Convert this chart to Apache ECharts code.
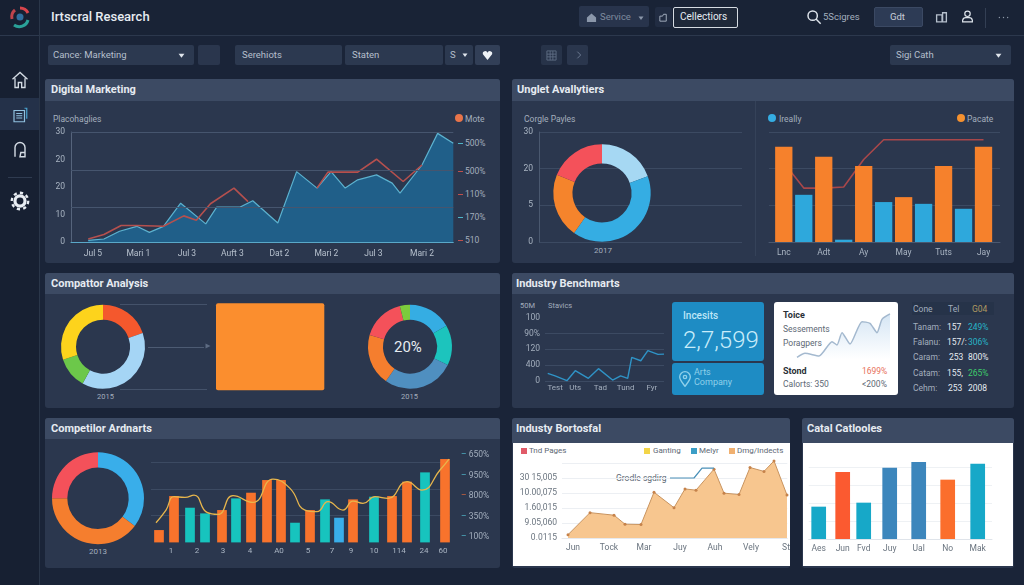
<!DOCTYPE html>
<html>
<head>
<meta charset="utf-8">
<title>Irtscral Research</title>
<script src="https://cdn.jsdelivr.net/npm/echarts@6/dist/echarts.min.js"></script>
<style>
    html, body { margin: 0; padding: 0; width: 1024px; height: 585px; overflow: hidden; background: #1a2438; font-family: Roboto, Arial, sans-serif; }
    #page { position: absolute; left: 0; top: 0; width: 1024px; height: 585px; }
    #page div, #page span, #page svg { position: absolute; white-space: nowrap; }
    #mainChart { position: absolute; left: 0; top: 0; width: 1024px; height: 585px; }
</style>
</head>
<body>
<div id="page"></div>
<div id="mainChart"></div>
<script>
var page = document.getElementById('page');

// x, y, w, h, background, extra css
var boxes = [
    [0, 0, 39, 585, '#172032', ''],
    [39, 0, 985, 35, '#192336', ''],
    [0, 35, 1024, 1, '#2c384d', ''],
    [39, 0, 1, 585, '#2a3649', ''],
    [0, 98, 39, 32, '#243149', ''],
    [8, 177, 24, 1, '#2f3b50', ''],
    // top bar
    [579, 6, 70, 21, '#28344c', 'border-radius:2px'],
    [655, 7, 17, 20, '#212c42', 'border-radius:2px'],
    [673, 7, 63, 19, '#1e2839', 'border:1px solid #d5dbe2;border-radius:2px'],
    [874, 7, 49, 20, '#2d3b55', 'border-radius:2px;border:1px solid #3b4963;box-sizing:border-box'],
    [985, 8, 1, 20, '#333f54', ''],
    // filters
    [48, 45, 146, 20, '#2c3950', 'border-radius:2px'],
    [198, 45, 22, 20, '#2a364d', 'border-radius:2px'],
    [235, 45, 107, 20, '#2c3950', 'border-radius:2px'],
    [345, 45, 98, 20, '#2c3950', 'border-radius:2px'],
    [445, 45, 28, 20, '#2c3950', 'border-radius:2px'],
    [475, 45, 25, 20, '#323f57', 'border-radius:2px'],
    [541, 45, 21, 20, '#273349', 'border-radius:2px'],
    [567, 45, 21, 20, '#2a364d', 'border-radius:2px'],
    [890, 45, 121, 20, '#2c3950', 'border-radius:2px'],
    // panels
    [45, 79, 455, 184, '#2b374e', 'border-radius:3px'],
    [45, 79, 455, 22, '#3c4a63', 'border-radius:3px 3px 0 0'],
    [512, 79, 502, 184, '#2b374e', 'border-radius:3px'],
    [512, 79, 502, 22, '#3c4a63', 'border-radius:3px 3px 0 0'],
    [755, 101, 1, 155, '#354259', ''],
    [45, 273, 455, 135, '#2b374e', 'border-radius:3px'],
    [45, 273, 455, 21, '#3c4a63', 'border-radius:3px 3px 0 0'],
    [512, 273, 502, 135, '#2b374e', 'border-radius:3px'],
    [512, 273, 502, 21, '#3c4a63', 'border-radius:3px 3px 0 0'],
    [45, 418, 455, 150, '#2b374e', 'border-radius:3px'],
    [45, 418, 455, 21, '#3c4a63', 'border-radius:3px 3px 0 0'],
    [512, 418, 278, 150, '#2b374e', 'border-radius:3px'],
    [512, 418, 278, 25, '#3c4a63', 'border-radius:3px 3px 0 0'],
    [802, 418, 212, 150, '#2b374e', 'border-radius:3px'],
    [802, 418, 212, 25, '#3c4a63', 'border-radius:3px 3px 0 0'],
    // white cards
    [513, 443, 277, 123, '#ffffff', ''],
    [803, 443, 210, 123, '#ffffff', ''],
    [774, 302, 124, 93, '#ffffff', 'border-radius:3px'],
    // blue cards
    [672, 302, 92, 59, '#1e8cc4', 'border-radius:3px'],
    [672, 363, 92, 32, '#1e8cc4', 'border-radius:3px'],
    // small table head
    [912, 302, 82, 13, '#263349', ''],
    // connector lines between the rings
    [120, 304, 87, 1, '#44526a', ''],
    [120, 389, 87, 1, '#44526a', ''],
    [148, 347, 56, 1, '#4d5b73', ''],
    // little legend swatches
    [455, 114, 8, 8, '#e8744a', 'border-radius:50%'],
    [768, 114, 8, 8, '#35ade3', 'border-radius:50%'],
    [957, 114, 8, 8, '#f5912f', 'border-radius:50%'],
    [521, 448, 6, 6, '#e05a68', ''],
    [644, 448, 6, 6, '#f3d548', ''],
    [691, 448, 6, 6, '#3b9ec6', ''],
    [729, 448, 6, 6, '#f0b070', ''],
    [606, 478, 7, 1, '#8d97a3', ''],
    // dashes of the right scale in the first panel
    [458, 143, 5, 1, '#4fb5c9', ''],
    [458, 171, 5, 1, '#c0504d', ''],
    [458, 194, 5, 1, '#c0504d', ''],
    [458, 217, 5, 1, '#4fb5c9', ''],
    [458, 240, 5, 1, '#c0504d', '']
];
boxes.forEach(function (b) {
    var el = document.createElement('div');
    el.style.cssText = 'left:' + b[0] + 'px;top:' + b[1] + 'px;width:' + b[2] + 'px;height:' + b[3] + 'px;background:' + b[4] + ';' + b[5];
    page.appendChild(el);
});

// x, center y, text, size, color, extra css
var W = '#e6ebf1', G = '#a3aebd', D = '#5d6874';
var labels = [
    [51, 17, 'Irtscral Research', 13, W, 'font-weight:500'],
    [600, 17, 'Service', 9.5, '#7f8b9e', ''],
    [680, 17, 'Cellectiors', 10, W, ''],
    [823, 17, '5Scigres', 9.5, '#a3aebd', ''],
    [890, 17, 'Gdt', 9.5, '#c6cdd7', ''],
    [53, 55, 'Cance: Marketing', 9.5, '#b5bfcc', ''],
    [242, 55, 'Serehiots', 9.5, '#b5bfcc', ''],
    [352, 55, 'Staten', 9.5, '#b5bfcc', ''],
    [450, 55, 'S', 9.5, '#b5bfcc', ''],
    [896, 55, 'Sigi Cath', 9.5, '#b5bfcc', ''],
    [51, 90, 'Digital Marketing', 11, W, 'font-weight:700'],
    [517, 90, 'Unglet Avallytiers', 11, W, 'font-weight:700'],
    [53, 119, 'Placohaglies', 8.5, G, ''],
    [465, 119, 'Mote', 8.5, G, ''],
    [524, 119, 'Corgle Payles', 8.5, G, ''],
    [779, 119, 'Ireally', 8.5, G, ''],
    [967, 119, 'Pacate', 8.5, G, ''],
    [594, 251, '2017', 8, G, ''],
    [465, 143, '500%', 8.5, G, ''],
    [465, 171, '500%', 8.5, G, ''],
    [465, 194, '110%', 8.5, G, ''],
    [465, 217, '170%', 8.5, G, ''],
    [465, 240, '510', 8.5, G, ''],
    [51, 284, 'Compattor Analysis', 11, W, 'font-weight:700'],
    [516, 284, 'Industry Benchmarts', 11, W, 'font-weight:700'],
    [97, 397, '2015', 7.5, G, ''],
    [401, 397, '2015', 7.5, G, ''],
    [394, 347, '20%', 15, W, ''],
    [520, 306, '50M', 7.5, G, ''],
    [548, 306, 'Stavics', 7.5, G, ''],
    [683, 316, 'Incesits', 10, '#bfe6f7', 'font-weight:500'],
    [683, 340, '2,7,599', 24, '#c9ecfa', 'font-weight:300'],
    [694, 372, 'Arts', 9, '#8fd0ea', ''],
    [694, 382, 'Company', 9, '#8fd0ea', ''],
    [783, 315, 'Toice', 9, '#2a3038', 'font-weight:700'],
    [783, 329, 'Sessements', 8.5, D, ''],
    [783, 343, 'Poragpers', 8.5, D, ''],
    [783, 371, 'Stond', 9, '#2a3038', 'font-weight:700'],
    [862, 371, '1699%', 8.5, '#e8715c', ''],
    [783, 384, 'Calorts: 350', 8.5, D, ''],
    [862, 384, '<200%', 8.5, D, ''],
    [913, 309, 'Cone', 8.5, G, ''],
    [948, 309, 'Tel', 8.5, G, ''],
    [972, 309, 'G04', 8.5, '#b09a62', ''],
    [913, 327, 'Tanam:', 8.5, G, ''], [947, 327, '157', 8.5, W, ''], [968, 327, '249%', 8.5, '#27b4c8', ''],
    [913, 342, 'Falanu:', 8.5, G, ''], [947, 342, '157/:', 8.5, W, ''], [968, 342, '306%', 8.5, '#27b4c8', ''],
    [913, 357, 'Caram:', 8.5, G, ''], [949, 357, '253', 8.5, W, ''], [968, 357, '800%', 8.5, W, ''],
    [913, 373, 'Catam:', 8.5, G, ''], [947, 373, '155,', 8.5, W, ''], [968, 373, '265%', 8.5, '#3ecb6c', ''],
    [913, 388, 'Cehm:', 8.5, G, ''], [948, 388, '253', 8.5, W, ''], [968, 388, '2008', 8.5, W, ''],
    [51, 429, 'Competilor Ardnarts', 11, W, 'font-weight:700'],
    [516, 429, 'Industy Bortosfal', 11, W, 'font-weight:700'],
    [807, 429, 'Catal Catlooles', 11, W, 'font-weight:700'],
    [89, 552, '2013', 8, G, ''],
    [529, 451, 'Tnd Pages', 8, D, ''],
    [653, 451, 'Ganting', 8, D, ''],
    [699, 451, 'Melyr', 8, D, ''],
    [737, 451, 'Dmg/Indects', 8, D, ''],
    [616, 478, 'Grodle sgdirg', 8.5, D, '']
];
labels.forEach(function (t) {
    var el = document.createElement('span');
    el.textContent = t[2];
    el.style.cssText = 'left:' + t[0] + 'px;top:' + (t[1] - 8) + 'px;line-height:16px;font-size:' + t[3] + 'px;color:' + t[4] + ';' + t[5];
    page.appendChild(el);
});

// little icons, x, y, size, svg body (24x24 box)
var icons = [
    [8, 5, 24, '<path d="M12 3a9 9 0 0 1 8 5" stroke="#d9454c" stroke-width="3" fill="none"/><path d="M20 15a9 9 0 0 1-14 5" stroke="#2aa198" stroke-width="3" fill="none"/><path d="M4 14a9 9 0 0 1 3-9" stroke="#c0444c" stroke-width="3" fill="none"/><circle cx="12" cy="12" r="3.5" fill="#2f6f9e"/>'],
    [10, 70, 20, '<path d="M3 11l9-8 9 8M6 10v11h4v-6h4v6h4V10" stroke="#d4dbe4" stroke-width="1.6" fill="none"/>'],
    [11, 106, 18, '<path d="M4 6h14v15H4zM7 10h8M7 13h8M7 16h8" stroke="#8fc0de" stroke-width="1.6" fill="none"/><path d="M18 3h3v14" stroke="#4aa3d0" stroke-width="1.6" fill="none"/>'],
    [10, 140, 20, '<path d="M6 20V9a6 6 0 0 1 12 0v7M12 20h6v-5h-5z" stroke="#d4dbe4" stroke-width="1.7" fill="none"/>'],
    [9, 190, 22, '<circle cx="12" cy="12" r="5.5" stroke="#e8edf3" stroke-width="3.5" fill="none"/><circle cx="12" cy="12" r="9" stroke="#e8edf3" stroke-width="2.5" stroke-dasharray="3.5 3.5" fill="none"/>'],
    [586, 12, 11, '<path d="M2 12l10-9 10 9v10H2z" fill="#8b97aa"/>'],
    [638, 15, 6, '<path d="M2 6h20L12 20z" fill="#8b97aa"/>'],
    [658, 12, 11, '<path d="M4 9h6l2-4h6v15H4z" stroke="#aab5c4" stroke-width="2" fill="none"/>'],
    [806, 9, 16, '<circle cx="10" cy="10" r="7" stroke="#dfe5ec" stroke-width="2.2" fill="none"/><path d="M15 15l7 7" stroke="#dfe5ec" stroke-width="2.2"/>'],
    [935, 10, 13, '<path d="M3 9h10v13H3zM14 5h7v17h-7z" stroke="#b5bfcc" stroke-width="2.5" fill="none"/>'],
    [961, 10, 13, '<circle cx="12" cy="7" r="5" stroke="#dfe5ec" stroke-width="2.2" fill="none"/><path d="M3 22v-3a6 6 0 0 1 6-5h6a6 6 0 0 1 6 5v3z" stroke="#dfe5ec" stroke-width="2.2" fill="none"/>'],
    [998, 12, 11, '<circle cx="3" cy="12" r="1.5" fill="#8f9aa9"/><circle cx="12" cy="12" r="1.5" fill="#8f9aa9"/><circle cx="21" cy="12" r="1.5" fill="#8f9aa9"/>'],
    [178, 52, 7, '<path d="M2 6h20L12 20z" fill="#dfe5ec"/>'],
    [462, 52, 6, '<path d="M2 6h20L12 20z" fill="#dfe5ec"/>'],
    [482, 50, 11, '<path d="M12 22L2 9a5 5 0 0 1 10-3 5 5 0 0 1 10 3z" fill="#eef2f6"/>'],
    [546, 50, 11, '<path d="M2 2h20v20H2zM9 2v20M15 2v20M2 9h20M2 15h20" stroke="#5f6d84" stroke-width="2" fill="none"/>'],
    [575, 51, 8, '<path d="M7 2l10 10-10 10" stroke="#6b7990" stroke-width="3" fill="none"/>'],
    [995, 52, 7, '<path d="M2 6h20L12 20z" fill="#dfe5ec"/>'],
    [205, 343, 6, '<path d="M2 2l20 10-20 10z" fill="#5d6b82"/>'],
    [677, 371, 16, '<path d="M12 23C7 16 4 13 4 9a8 8 0 0 1 16 0c0 4-3 7-8 14z" stroke="#8fd0ea" stroke-width="2" fill="none"/><circle cx="12" cy="9" r="2.5" stroke="#8fd0ea" stroke-width="2" fill="none"/>']
];
icons.forEach(function (ic) {
    var holder = document.createElement('div');
    holder.style.cssText = 'left:' + ic[0] + 'px;top:' + ic[1] + 'px;width:' + ic[2] + 'px;height:' + ic[2] + 'px';
    holder.innerHTML = '<svg viewBox="0 0 24 24" width="' + ic[2] + '" height="' + ic[2] + '" style="left:0;top:0">' + ic[3] + '</svg>';
    page.appendChild(holder);
});

// chart data
var trafficX = [11, 21, 31, 42, 50, 59, 70, 86, 93, 108, 116, 132, 144, 157, 166, 175, 183, 195, 205, 210, 224, 234, 244];
var trafficY = [0.6, 1.1, 3.9, 5.7, 3.5, 5.7, 14.1, 6.6, 12.7, 12.7, 15, 6.9, 25.6, 19.6, 25.6, 19.6, 22.6, 24.4, 21.4, 17.8, 28, 39.5, 35.9];
var moteLine = [[11, 1.1], [21, 2.7], [32, 6], [42, 6], [59, 5.7], [72, 9.5], [80, 7.9], [89, 13.9], [104, 19.6], [113, 14.7], [113, null],
    [157, 19.6], [164, 25.4], [183, 25.4], [195, 30.1], [212, 22], [224, 28]];
var trafficLabels = {14: 'Jul 5', 43: 'Mari 1', 74: 'Jul 3', 103: 'Auft 3', 133: 'Dat 2', 163: 'Mari 2', 193: 'Jul 3', 224: 'Mari 2'};

var months2 = ['Lnc', 'Jun', 'Adt', 'Sep', 'Ay', 'Oct', 'May', 'Nov', 'Tuts', 'Dec', 'Jay'];
var ireally = [null, 42.9, null, 2.1, null, 36.3, null, 34.7, null, 30.2, null];
var pacate = [86.7, null, 77.6, null, 69.2, null, 40.8, null, 69.2, null, 86.7];
var trend2 = [72, 49, 49, 50, 75, 93, 93, 93, 93, 93, 93];

var miniLine = [[2.7, 0.48], [10, 0.32], [21.7, 0.02], [30, 0.65], [43, 0.17], [53, 0.78], [67, 0.06], [75, 0.32], [82, 0.17], [86, 1.49], [95, 1.28], [102, 1.92], [112, 1.68], [118, 1.7]];
var spark = [[0, 8], [8, 20], [22, 12], [35, 55], [40, 45], [45, 82], [53, 48], [65, 115], [73, 110], [80, 82], [85, 122], [93, 138]];

var TEAL = '#17c4be', ORG = '#f8732c', SKY = '#39aeea';
var compBars = [[8, 37, ORG], [23, 139, ORG], [39, 104, TEAL], [54, 87, TEAL], [71, 97, ORG], [85, 132, TEAL], [100, 149, ORG], [116, 187, ORG], [130, 187, ORG], [144, 59, TEAL],
    [159, 97, ORG], [174, 129, TEAL], [188, 74, SKY], [202, 129, ORG], [223, 137, TEAL], [241, 139, ORG], [256, 182, ORG], [274, 210, TEAL], [294, 250, ORG]];
var compLine = [[5, 59], [15, 97], [23, 137], [34, 135], [43, 142], [56, 90], [67, 84], [82, 140], [102, 120], [122, 190], [139, 162], [154, 97], [166, 92], [177, 122], [192, 97], [202, 124], [212, 117], [224, 137], [237, 132], [256, 182], [271, 157], [289, 217], [298, 250]];
var compLabels = {20: '1', 46: '2', 72: '3', 99: '4', 128: 'A0', 157: '5', 181: '7', 200: '9', 223: '10', 248: '114', 273: '24', 292: '60'};

var areaPoints = [[6, 0.22], [28, 1.69], [52, 1.52], [63, 0.92], [79, 0.9], [92, 3.05], [112, 2.02], [123, 3.27], [134, 3.19], [152, 4.59], [162, 2.99], [177, 2.9], [188, 4.7], [202, 4.44], [212, 5.14], [225, 2.86]];
var areaLabels = {11: 'Jun', 47: 'Tock', 82: 'Mar', 118: 'Juy', 153: 'Auh', 189: 'Vely', 224: 'St'};
var areaTicks = ['0.0115', '9.05,060', '1.60,015', '10.00,075', '30 15,005'];

var BLUE2 = '#3c86bc', RED2 = '#fb5a30', TEAL2 = '#17a8c8', ORG2 = '#fb6e2c';
var lastBars = [[10, 97, TEAL2], [34, 201, RED2], [55, 109, TEAL2], [81, 214, BLUE2], [110, 231, BLUE2], [139, 178, ORG2], [169, 226, TEAL2]];
var lastLabels = {10: 'Aes', 34: 'Jun', 55: 'Fvd', 81: 'Juy', 110: 'Ual', 139: 'No', 169: 'Mak'};

function keysOf(obj) {
    return Object.keys(obj).map(Number);
}

function ring(name, cx, cy, inner, outer, slices) {
    return {
        name: name,
        type: 'pie',
        center: [cx, cy],
        radius: [inner, outer],
        label: { show: false },
        labelLine: { show: false },
        silent: true,
        data: slices.map(function (s) {
            return { name: s[0], value: s[1], itemStyle: { color: s[2] } };
        })
    };
}

// value x axis whose labels sit on given points only
function labelledX(gridIndex, max, map, color, fontSize, margin, lineColor) {
    return {
        type: 'value', gridIndex: gridIndex, min: 0, max: max,
        splitLine: { show: false },
        axisTick: { show: false },
        axisLine: lineColor ? { show: true, onZero: false, lineStyle: { color: lineColor } } : { show: false },
        axisLabel: {
            color: color, fontSize: fontSize, margin: margin, showMinLabel: true, showMaxLabel: true,
            customValues: keysOf(map),
            formatter: function (v) { return map[v] || ''; }
        }
    };
}

function listY(gridIndex, max, list, color, lineColor) {
    return {
        type: 'value', gridIndex: gridIndex, min: 0, max: max, interval: 1,
        axisTick: { show: false },
        axisLine: { show: false },
        splitLine: { show: true, showMaxLine: false, lineStyle: { color: lineColor } },
        axisLabel: {
            color: color, fontSize: 8.5, margin: 5,
            formatter: function (v) { return list[v] === undefined ? '' : list[v]; }
        }
    };
}

var hiddenX = function (gridIndex) {
    return { type: 'value', gridIndex: gridIndex, show: false, min: 0, max: 1 };
};

var FAINT = '#3c4a62';

var option = {
    animation: false,
    backgroundColor: 'transparent',
    textStyle: { fontFamily: 'Roboto, Arial, sans-serif' },
    grid: [
        { left: 71, top: 132, width: 382.3, height: 110 },      // 0 traffic
        { left: 539, top: 132, width: 203, height: 110 },       // 1 scale behind first ring
        { left: 769, top: 132, width: 231, height: 110 },       // 2 lines behind the bars
        { left: 773.8, top: 132, width: 219.7, height: 110 },   // 3 bars
        { left: 216, top: 303.3, width: 108.3, height: 87 },    // 4 orange block
        { left: 545, top: 317.7, width: 119, height: 63.3 },    // 5 mini line
        { left: 797, top: 313.3, width: 93.3, height: 46.7 },   // 6 spark
        { left: 151, top: 435.7, width: 299, height: 106.7 },   // 7 competitor bars
        { left: 151, top: 455, width: 309, height: 82.3 },      // 8 scale of the bars
        { left: 562, top: 457, width: 225.3, height: 81 },      // 9 orange area
        { left: 808.7, top: 449, width: 183.3, height: 90 }     // 10 last bars
    ],
    xAxis: [
        labelledX(0, 244, trafficLabels, '#b6c0cd', 8.5, 7, '#5aa8c8'),
        hiddenX(1),
        { type: 'value', gridIndex: 2, min: 0, max: 1, axisLabel: { show: false }, axisTick: { show: false }, splitLine: { show: false }, axisLine: { show: true, onZero: false, lineStyle: { color: '#4a586f' } } },
        { type: 'category', gridIndex: 3, data: months2, axisLine: { show: false }, axisTick: { show: false }, axisLabel: { color: '#aab5c3', fontSize: 8.5, margin: 6, interval: 1 } },
        { type: 'category', gridIndex: 4, show: false, data: ['block'] },
        labelledX(5, 118, { 10: 'Test', 30: 'Uts', 55: 'Tad', 80: 'Tund', 106: 'Fyr' }, '#a3aebd', 8, 3),
        { type: 'value', gridIndex: 6, show: false, min: 0, max: 93.3 },
        labelledX(7, 299, compLabels, '#aab5c3', 8, 5),
        hiddenX(8),
        labelledX(9, 225.3, areaLabels, '#6a747f', 8.5, 5, '#e6e9ee'),
        labelledX(10, 183.3, lastLabels, '#6a747f', 8.5, 5, '#dfe4ea')
    ],
    yAxis: [
        {
            type: 'value', gridIndex: 0, min: 0, max: 40, interval: 10,
            axisTick: { show: false },
            axisLine: { show: true, onZero: false, lineStyle: { color: '#56647c' } },
            splitLine: { show: false },
            axisLabel: { color: '#aab5c3', fontSize: 8.5, margin: 6, formatter: function (v) { return { 0: '0', 10: '10', 20: '20', 30: '20', 40: '30' }[v]; } }
        },
        {
            type: 'category', gridIndex: 1, boundaryGap: false, data: ['0', '5', '20', '30'],
            axisTick: { show: false },
            axisLine: { show: true, lineStyle: { color: '#4a586f' } },
            splitLine: { show: true, interval: 0, lineStyle: { color: FAINT } },
            axisLabel: { color: '#aab5c3', fontSize: 8.5, margin: 6, interval: 0 }
        },
        { type: 'value', gridIndex: 2, min: 0, max: 3, interval: 1, axisLabel: { show: false }, axisLine: { show: false }, axisTick: { show: false }, splitLine: { lineStyle: { color: FAINT } } },
        { type: 'value', gridIndex: 3, min: 0, max: 100, show: false },
        { type: 'value', gridIndex: 4, min: 0, max: 1, show: false },
        listY(5, 4, ['0', '400', '120', '90%', '100'], '#a3aebd', FAINT),
        { type: 'value', gridIndex: 6, min: 0, max: 140, show: false },
        { type: 'value', gridIndex: 7, min: 0, max: 320, interval: 80, axisLabel: { show: false }, axisTick: { show: false }, axisLine: { show: false }, splitLine: { showMinLine: false, showMaxLine: false, lineStyle: { color: FAINT } } },
        {
            type: 'category', gridIndex: 8, position: 'right', boundaryGap: false, data: ['100%', '350%', '800%', '950%', '650%'],
            splitLine: { show: false },
            axisLine: { show: false },
            axisTick: { show: false },
            axisLabel: {
                color: '#a3aebd', fontSize: 8.5, margin: 1, interval: 0,
                formatter: function (v) { return (v === '800%' ? '{r|\u2013}' : '{b|\u2013}') + ' ' + v; },
                rich: { b: { color: '#4fb5c9', fontSize: 8.5 }, r: { color: '#d9663c', fontSize: 8.5 } }
            }
        },
        listY(9, 5.4, areaTicks, '#6a747f', '#eceff3'),
        { type: 'value', gridIndex: 10, min: 0, max: 270, interval: 54, axisLabel: { show: false }, axisTick: { show: false }, axisLine: { show: false }, splitLine: { showMinLine: false, showMaxLine: false, lineStyle: { color: '#eef1f4' } } }
    ],
    series: [
        // digital marketing
        {
            name: 'Scale lines', type: 'line', xAxisIndex: 0, yAxisIndex: 0, z: 1, symbol: 'none', data: [],
            markLine: {
                silent: true, symbol: 'none', label: { show: false },
                lineStyle: { color: '#46556e', type: 'solid', width: 1 },
                data: [{ yAxis: 40 }, { yAxis: 26 }, { yAxis: 12.7 }]
            }
        },
        {
            name: 'Placohaglies', type: 'line', xAxisIndex: 0, yAxisIndex: 0, z: 2, symbol: 'none',
            data: trafficX.map(function (x, i) { return [x, trafficY[i]]; }),
            lineStyle: { color: '#5cb2cf', width: 1.2 },
            areaStyle: { color: '#205f89', opacity: 1 }
        },
        {
            name: 'Mote', type: 'line', xAxisIndex: 0, yAxisIndex: 0, z: 3, symbol: 'none', connectNulls: false,
            data: moteLine,
            lineStyle: { color: '#b5504e', width: 1.6 }
        },
        // rings
        ring('Corgle Payles', 602, 193, 29.5, 48.7, [['a', 70, '#a6d8f3'], ['b', 145, '#35ade3'], ['c', 77, '#f5842c'], ['d', 68, '#f4515a']]),
        ring('Competitor A', 103, 346.7, 27, 42, [['a', 71, '#f4582d'], ['b', 138, '#a5d5f5'], ['c', 43, '#6cc84a'], ['d', 108, '#fdd31c']]),
        ring('Competitor B', 410, 346.7, 27, 42, [['a', 60, '#35ade3'], ['b', 56, '#1cc4bd'], ['c', 99, '#4f8fc0'], ['d', 71, '#f57e2e'], ['e', 60, '#f4515a'], ['f', 14, '#7ccc3c']]),
        ring('Competitor C', 98, 498.3, 30.7, 46, [['a', 127, '#39aeea'], ['b', 143, '#f57e2e'], ['c', 90, '#f4515a']]),
        // unglet bars
        { name: 'Trend', type: 'line', xAxisIndex: 3, yAxisIndex: 3, z: 2, symbol: 'none', data: trend2, lineStyle: { color: '#a8474a', width: 1.6 } },
        { name: 'Ireally', type: 'bar', xAxisIndex: 3, yAxisIndex: 3, z: 3, barWidth: 17.3, barGap: '-100%', data: ireally, itemStyle: { color: '#2ea8dc' } },
        { name: 'Pacate', type: 'bar', xAxisIndex: 3, yAxisIndex: 3, z: 3, barWidth: 17.3, barGap: '-100%', data: pacate, itemStyle: { color: '#f6812c' } },
        // big block
        { name: 'Block', type: 'bar', xAxisIndex: 4, yAxisIndex: 4, barWidth: '100%', data: [1], itemStyle: { color: '#fb8e2e', borderRadius: 2 } },
        // benchmarks
        { name: 'Stavics', type: 'line', xAxisIndex: 5, yAxisIndex: 5, symbol: 'none', data: miniLine, lineStyle: { color: '#2f93c6', width: 1.4 } },
        {
            name: 'Sessements', type: 'line', xAxisIndex: 6, yAxisIndex: 6, smooth: 0.2, symbol: 'none', data: spark,
            lineStyle: { color: '#a4b9cf', width: 1.5 },
            areaStyle: { color: new echarts.graphic.LinearGradient(0, 0, 0, 1, [{ offset: 0, color: '#c3daef' }, { offset: 1, color: '#ffffff' }]) }
        },
        // competitor bars
        {
            name: 'Ardnarts', type: 'bar', xAxisIndex: 7, yAxisIndex: 7, barWidth: 9.7,
            data: compBars.map(function (b) { return { value: [b[0], b[1]], itemStyle: { color: b[2] } }; })
        },
        { name: 'Ardnarts line', type: 'line', xAxisIndex: 7, yAxisIndex: 7, z: 4, smooth: true, symbol: 'none', data: compLine, lineStyle: { color: '#e8b64c', width: 1.3 } },
        // orange area
        {
            name: 'Dmg/Indects', type: 'line', xAxisIndex: 9, yAxisIndex: 9, symbol: 'circle', symbolSize: 3, data: areaPoints,
            lineStyle: { color: '#c8935e', width: 1 },
            itemStyle: { color: '#c6824a' },
            areaStyle: { color: '#f7c68f', opacity: 1 }
        },
        { name: 'Melyr', type: 'line', xAxisIndex: 9, yAxisIndex: 9, z: 4, symbol: 'none', data: [[108, 4], [132, 4], [140, 4.66], [152, 4.66]], lineStyle: { color: '#4a90b8', width: 1.2 } },
        // last bars
        {
            name: 'Catlooles', type: 'bar', xAxisIndex: 10, yAxisIndex: 10, barWidth: 14.7,
            data: lastBars.map(function (b) { return { value: [b[0], b[1]], itemStyle: { color: b[2] } }; })
        }
    ]
};

var mainChart = echarts.init(document.getElementById('mainChart'), null, { renderer: 'canvas' });
mainChart.setOption(option);
</script>
</body>
</html>
